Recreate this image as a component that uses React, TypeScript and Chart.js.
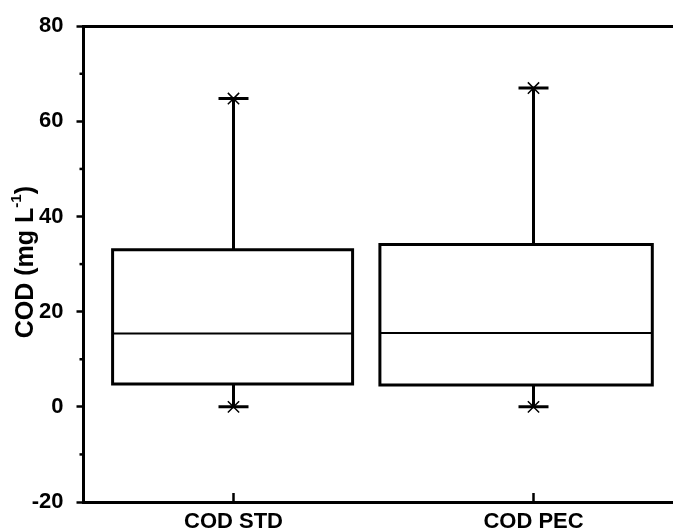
import React, { useEffect, useRef } from "react";
import { Chart, registerables } from "chart.js";

Chart.register(...registerables);

// ---- data ----
const categories = ["COD STD", "COD PEC"];
const whiskerMin = [0, 0];
const q1 = [4.8, 4.6];
const median = [15.4, 15.5];
const q3 = [33.0, 34.1];
const whiskerMax = [64.8, 67.0];
const yTicks = [-20, 0, 20, 40, 60, 80];
const yMinorTicks = [-10, 10, 30, 50, 70];

// ---- layout (in category units, relative to category centre) ----
const boxLeft = [-0.403, -0.512];
const boxRight = [0.397, 0.396];
const capHalf = 0.05;

const FONT = '"Liberation Sans", Arial, sans-serif';

function buildDatasets() {
  const boxPts: any[] = [];
  const medPts: any[] = [];
  const whiskPts: any[] = [];
  const capPts: any[] = [];
  const markPts: any[] = [];
  categories.forEach((_, i) => {
    const l = i + boxLeft[i];
    const r = i + boxRight[i];
    boxPts.push(
      { x: l, y: q1[i] },
      { x: l, y: q3[i] },
      { x: r, y: q3[i] },
      { x: r, y: q1[i] },
      { x: l, y: q1[i] },
      { x: l, y: null }
    );
    medPts.push({ x: l, y: median[i] }, { x: r, y: median[i] }, { x: r, y: null });
    whiskPts.push(
      { x: i, y: q3[i] },
      { x: i, y: whiskerMax[i] },
      { x: i, y: null },
      { x: i, y: q1[i] },
      { x: i, y: whiskerMin[i] },
      { x: i, y: null }
    );
    capPts.push(
      { x: i - capHalf, y: whiskerMax[i] },
      { x: i + capHalf, y: whiskerMax[i] },
      { x: i, y: null },
      { x: i - capHalf, y: whiskerMin[i] },
      { x: i + capHalf, y: whiskerMin[i] },
      { x: i, y: null }
    );
    markPts.push({ x: i, y: whiskerMax[i] }, { x: i, y: whiskerMin[i] });
  });
  const base = {
    type: "line",
    showLine: true,
    pointRadius: 0,
    borderColor: "#000",
    backgroundColor: "#000",
    spanGaps: false,
    fill: false,
    borderJoinStyle: "miter",
    borderCapStyle: "square",
  };
  return [
    { ...base, data: boxPts, borderWidth: 3 },
    { ...base, data: medPts, borderWidth: 2, borderCapStyle: "butt" },
    { ...base, data: whiskPts, borderWidth: 3, borderCapStyle: "butt" },
    { ...base, data: capPts, borderWidth: 3, borderCapStyle: "butt" },
    {
      ...base,
      data: markPts,
      showLine: false,
      pointRadius: 8,
      pointStyle: "crossRot",
      pointBorderWidth: 1.5,
      pointBorderColor: "#000",
    },
  ];
}

const decorPlugin = {
  id: "decor",
  afterDraw(chart: any) {
    const { ctx, chartArea } = chart;
    const ys = chart.scales.y;
    const xs = chart.scales.x;
    ctx.save();
    ctx.strokeStyle = "#000";
    // frame (top & right)
    ctx.lineWidth = 3;
    ctx.beginPath();
    ctx.moveTo(chartArea.left, Math.round(chartArea.top) + 0.5);
    ctx.lineTo(chartArea.right, Math.round(chartArea.top) + 0.5);
    ctx.lineTo(chartArea.right, chartArea.bottom);
    ctx.stroke();
    // minor y ticks
    ctx.lineWidth = 2.5;
    yMinorTicks.forEach((v) => {
      const p = ys.getPixelForValue(v);
      ctx.beginPath();
      ctx.moveTo(chartArea.left, p);
      ctx.lineTo(chartArea.left - 4, p);
      ctx.stroke();
    });
    // inward x ticks
    categories.forEach((_, i) => {
      const p = xs.getPixelForValue(i);
      ctx.beginPath();
      ctx.moveTo(p, chartArea.bottom);
      ctx.lineTo(p, chartArea.bottom - 9);
      ctx.stroke();
    });
    // y title with superscript
    const cy = (chartArea.top + chartArea.bottom) / 2 - 2;
    ctx.translate(33, cy);
    ctx.rotate(-Math.PI / 2);
    ctx.fillStyle = "#000";
    ctx.textBaseline = "alphabetic";
    ctx.textAlign = "left";
    const mainFont = `bold 25px ${FONT}`;
    const supFont = `bold 15px ${FONT}`;
    const t1 = "COD (mg L";
    const t2 = "-1";
    const t3 = ")";
    ctx.font = mainFont;
    const w1 = ctx.measureText(t1).width;
    const w3 = ctx.measureText(t3).width;
    ctx.font = supFont;
    const w2 = ctx.measureText(t2).width;
    const total = w1 + w2 + w3;
    const s = -total / 2;
    ctx.font = mainFont;
    ctx.fillText(t1, s, 0);
    ctx.font = supFont;
    ctx.fillText(t2, s + w1, -12);
    ctx.font = mainFont;
    ctx.fillText(t3, s + w1 + w2, 0);
    ctx.restore();
  },
};

export default function App() {
  const ref = useRef<HTMLCanvasElement | null>(null);
  useEffect(() => {
    if (!ref.current) return;
    const chart = new Chart(ref.current, {
      type: "line",
      data: { datasets: buildDatasets() as any },
      options: {
        animation: false,
        responsive: false,
        devicePixelRatio: 1,
        layout: { padding: { top: 22, right: 16.5, left: 0, bottom: 0 } },
        plugins: { legend: { display: false }, tooltip: { enabled: false } },
        scales: {
          x: {
            type: "linear",
            min: -0.5,
            max: 1.5,
            afterBuildTicks: (scale: any) => {
              scale.ticks = categories.map((_, i) => ({ value: i }));
            },
            afterFit: (scale: any) => {
              scale.height = 28;
            },
            ticks: {
              autoSkip: false,
              maxRotation: 0,
              padding: 7,
              color: "#000",
              font: { family: FONT, size: 22, weight: "bold" },
              callback: (v: any) => categories[v] ?? "",
            },
            grid: { display: true, drawOnChartArea: false, drawTicks: false },
            border: { display: true, color: "#000", width: 3 },
          },
          y: {
            type: "linear",
            min: -20,
            max: 80,
            afterBuildTicks: (scale: any) => {
              scale.ticks = yTicks.map((v) => ({ value: v }));
            },
            afterFit: (scale: any) => {
              scale.width = 83.5;
            },
            ticks: {
              padding: 13,
              color: "#000",
              font: { family: FONT, size: 22, weight: "bold" },
            },
            grid: {
              drawOnChartArea: false,
              drawTicks: true,
              tickLength: 7,
              tickWidth: 2.5,
              tickColor: "#000",
            },
            border: { display: true, color: "#000", width: 3 },
          },
        },
      } as any,
      plugins: [decorPlugin],
    });
    return () => chart.destroy();
  }, []);
  return (
    <div
      style={{
        position: "fixed",
        left: 0,
        top: 0,
        width: 673,
        height: 530,
        overflow: "hidden",
        background: "#fff",
      }}
    >
      <canvas ref={ref} width={700} height={530} style={{ display: "block", width: 700, height: 530 }} />
    </div>
  );
}
